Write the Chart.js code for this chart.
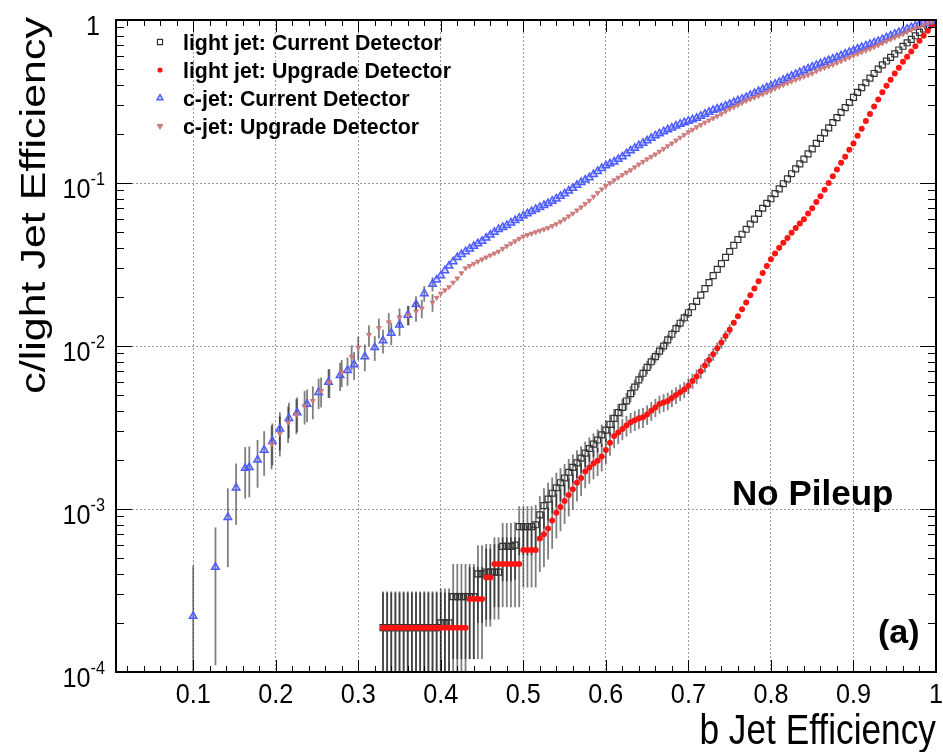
<!DOCTYPE html>
<html><head><meta charset="utf-8">
<script src="https://cdn.jsdelivr.net/npm/chart.js@4.4.0/dist/chart.umd.min.js"></script>
<style>html,body{margin:0;padding:0;background:#fff;}canvas{display:block;}</style>
</head><body>
<canvas id="c" width="943" height="752"></canvas>
<script>
// ---- data: [b-jet efficiency, mistag efficiency, stat. error] ----
const lightCurrent = [
[0.330,1.87e-4,1.25e-4],[0.335,1.87e-4,1.25e-4],[0.340,1.87e-4,1.25e-4],[0.345,1.87e-4,1.25e-4],[0.350,1.87e-4,1.25e-4],
[0.355,1.87e-4,1.25e-4],[0.360,1.87e-4,1.25e-4],[0.365,1.87e-4,1.25e-4],[0.370,1.87e-4,1.25e-4],[0.375,1.87e-4,1.25e-4],
[0.380,1.87e-4,1.25e-4],[0.385,1.87e-4,1.25e-4],[0.390,1.87e-4,1.25e-4],[0.395,1.87e-4,1.25e-4],[0.400,2.0e-4,1.25e-4],
[0.405,2.0e-4,1.25e-4],[0.410,2.0e-4,1.25e-4],[0.415,2.9e-4,1.7e-4],[0.420,2.9e-4,1.7e-4],[0.425,2.9e-4,1.7e-4],
[0.430,2.9e-4,1.7e-4],[0.435,2.9e-4,1.7e-4],[0.440,2.9e-4,1.7e-4],[0.445,4.0e-4,2.0e-4],[0.450,4.0e-4,2.0e-4],
[0.455,4.1e-4,2.0e-4],[0.460,4.1e-4,2.0e-4],[0.465,4.1e-4,2.0e-4],[0.470,4.1e-4,2.0e-4],[0.475,5.9e-4,2.3e-4],
[0.480,5.9e-4,2.3e-4],[0.485,5.9e-4,2.3e-4],[0.490,6.0e-4,2.3e-4],[0.495,7.8e-4,2.6e-4],[0.500,7.8e-4,2.6e-4],
[0.505,7.8e-4,2.6e-4],[0.510,7.8e-4,2.6e-4],[0.515,8.0e-4,2.6e-4],[0.520,9.2e-4,2.8e-4],[0.525,1.05e-3,2.9e-4],
[0.530,1.15e-3,3.0e-4],[0.535,1.25e-3,3.1e-4],[0.540,1.35e-3,3.2e-4],[0.545,1.45e-3,3.3e-4],[0.550,1.55e-3,3.4e-4],
[0.555,1.68e-3,3.5e-4],[0.560,1.8e-3,3.6e-4],[0.565,1.92e-3,3.7e-4],[0.570,2.05e-3,3.8e-4],[0.575,2.2e-3,3.9e-4],
[0.580,2.35e-3,4.0e-4],[0.585,2.5e-3,4.15e-4],[0.590,2.65e-3,4.3e-4],[0.595,2.85e-3,4.45e-4],[0.600,3.05e-3,4.6e-4],
[0.605,3.3e-3,4.8e-4],[0.610,3.6e-3,5.0e-4],[0.615,3.9e-3,5.2e-4],[0.620,4.2e-3,5.4e-4],[0.625,4.6e-3,5.6e-4],
[0.630,5.1e-3,5.9e-4],[0.635,5.6e-3,6.2e-4],[0.640,6.2e-3,6.5e-4],[0.645,6.8e-3,6.8e-4],[0.650,7.4e-3,7.1e-4],
[0.655,8.0e-3,7.4e-4],[0.660,8.6e-3,7.7e-4],[0.665,9.3e-3,8.0e-4],[0.670,0.0100,8.4e-4],[0.675,0.0109,8.7e-4],
[0.680,0.0118,9.1e-4],[0.685,0.0128,9.5e-4],[0.690,0.0138,1.0e-3],[0.695,0.0149,1.05e-3],[0.700,0.0160,1.1e-3],
[0.705,0.0174,0],[0.710,0.0188,0],[0.715,0.0205,0],[0.720,0.0225,0],[0.725,0.0245,0],
[0.730,0.0270,0],[0.735,0.0295,0],[0.740,0.0320,0],[0.745,0.0350,0],[0.750,0.0380,0],
[0.755,0.0415,0],[0.760,0.0450,0],[0.765,0.0485,0],[0.770,0.0520,0],[0.775,0.0560,0],
[0.780,0.0600,0],[0.785,0.0650,0],[0.790,0.0700,0],[0.795,0.0750,0],[0.800,0.0800,0],
[0.805,0.0860,0],[0.810,0.0920,0],[0.815,0.0990,0],[0.820,0.106,0],[0.825,0.114,0],
[0.830,0.122,0],[0.835,0.131,0],[0.840,0.140,0],[0.845,0.151,0],[0.850,0.162,0],
[0.855,0.175,0],[0.860,0.188,0],[0.865,0.203,0],[0.870,0.218,0],[0.875,0.235,0],
[0.880,0.252,0],[0.885,0.271,0],[0.890,0.290,0],[0.895,0.312,0],[0.900,0.335,0],
[0.905,0.360,0],[0.910,0.385,0],[0.915,0.412,0],[0.920,0.440,0],[0.925,0.470,0],
[0.930,0.500,0],[0.935,0.530,0],[0.940,0.560,0],[0.945,0.590,0],[0.950,0.620,0],
[0.955,0.655,0],[0.960,0.690,0],[0.965,0.725,0],[0.970,0.760,0],[0.975,0.800,0],
[0.980,0.840,0],[0.985,0.880,0],[0.990,0.920,0],[0.995,0.960,0],[1.000,1.000,0]
];
const lightUpgrade = [
[0.330,1.87e-4,1.2e-4],[0.335,1.87e-4,1.2e-4],[0.340,1.87e-4,1.2e-4],[0.345,1.87e-4,1.2e-4],[0.350,1.87e-4,1.2e-4],
[0.355,1.87e-4,1.2e-4],[0.360,1.87e-4,1.2e-4],[0.365,1.87e-4,1.2e-4],[0.370,1.87e-4,1.2e-4],[0.375,1.87e-4,1.2e-4],
[0.380,1.87e-4,1.2e-4],[0.385,1.87e-4,1.2e-4],[0.390,1.87e-4,1.2e-4],[0.395,1.87e-4,1.2e-4],[0.400,1.87e-4,1.2e-4],
[0.405,1.87e-4,1.2e-4],[0.410,1.87e-4,1.2e-4],[0.415,1.87e-4,1.2e-4],[0.420,1.87e-4,1.2e-4],[0.425,1.87e-4,1.2e-4],
[0.430,1.87e-4,1.2e-4],[0.435,2.8e-4,1.6e-4],[0.440,2.8e-4,1.6e-4],[0.445,2.8e-4,1.6e-4],[0.450,2.8e-4,1.6e-4],
[0.455,3.8e-4,1.9e-4],[0.460,3.8e-4,1.9e-4],[0.465,4.6e-4,2.1e-4],[0.470,4.6e-4,2.1e-4],[0.475,4.6e-4,2.1e-4],
[0.480,4.6e-4,2.1e-4],[0.485,4.6e-4,2.1e-4],[0.490,4.6e-4,2.1e-4],[0.495,4.6e-4,2.1e-4],[0.500,5.6e-4,2.3e-4],
[0.505,5.6e-4,2.3e-4],[0.510,5.6e-4,2.3e-4],[0.515,5.6e-4,2.3e-4],[0.520,6.6e-4,2.5e-4],[0.525,7.0e-4,2.6e-4],
[0.530,7.6e-4,2.7e-4],[0.535,8.5e-4,2.8e-4],[0.540,9.5e-4,2.9e-4],[0.545,1.03e-3,3.0e-4],[0.550,1.12e-3,3.1e-4],
[0.555,1.22e-3,3.2e-4],[0.560,1.32e-3,3.3e-4],[0.565,1.45e-3,3.4e-4],[0.570,1.55e-3,3.5e-4],[0.575,1.7e-3,3.6e-4],
[0.580,1.8e-3,3.7e-4],[0.585,1.9e-3,3.8e-4],[0.590,1.98e-3,3.9e-4],[0.595,2.1e-3,4.0e-4],[0.600,2.3e-3,4.1e-4],
[0.605,2.55e-3,4.3e-4],[0.610,2.8e-3,4.4e-4],[0.615,2.95e-3,4.5e-4],[0.620,3.1e-3,4.6e-4],[0.625,3.25e-3,4.7e-4],
[0.630,3.4e-3,4.8e-4],[0.635,3.5e-3,4.9e-4],[0.640,3.6e-3,5.0e-4],[0.645,3.65e-3,5.1e-4],[0.650,3.8e-3,5.2e-4],
[0.655,4.0e-3,5.3e-4],[0.660,4.2e-3,5.4e-4],[0.665,4.4e-3,5.5e-4],[0.670,4.5e-3,5.6e-4],[0.675,4.6e-3,5.7e-4],
[0.680,4.8e-3,5.8e-4],[0.685,5.0e-3,5.9e-4],[0.690,5.2e-3,6.0e-4],[0.695,5.4e-3,6.1e-4],[0.700,5.7e-3,6.3e-4],
[0.705,6.1e-3,6.5e-4],[0.710,6.5e-3,6.7e-4],[0.715,7.0e-3,7.0e-4],[0.720,7.6e-3,7.2e-4],[0.725,8.2e-3,7.5e-4],
[0.730,8.9e-3,7.8e-4],[0.735,9.7e-3,8.1e-4],[0.740,0.0105,8.5e-4],[0.745,0.0115,8.9e-4],[0.750,0.0126,9.3e-4],
[0.755,0.0139,0],[0.760,0.0152,0],[0.765,0.0168,0],[0.770,0.0185,0],[0.775,0.0205,0],
[0.780,0.0225,0],[0.785,0.0250,0],[0.790,0.0280,0],[0.795,0.0310,0],[0.800,0.0340,0],
[0.805,0.0370,0],[0.810,0.0400,0],[0.815,0.0430,0],[0.820,0.0460,0],[0.825,0.0495,0],
[0.830,0.0530,0],[0.835,0.0565,0],[0.840,0.0600,0],[0.845,0.0650,0],[0.850,0.0700,0],
[0.855,0.0765,0],[0.860,0.0830,0],[0.865,0.0910,0],[0.870,0.100,0],[0.875,0.110,0],
[0.880,0.121,0],[0.885,0.133,0],[0.890,0.145,0],[0.895,0.160,0],[0.900,0.175,0],
[0.905,0.195,0],[0.910,0.215,0],[0.915,0.240,0],[0.920,0.265,0],[0.925,0.295,0],
[0.930,0.325,0],[0.935,0.360,0],[0.940,0.395,0],[0.945,0.430,0],[0.950,0.470,0],
[0.955,0.510,0],[0.960,0.555,0],[0.965,0.595,0],[0.970,0.640,0],[0.975,0.690,0],
[0.980,0.745,0],[0.985,0.800,0],[0.990,0.860,0],[0.995,0.930,0],[1.000,1.000,0]
];
const cCurrent = [
[0.100,2.2e-4,2.3e-4],[0.127,4.4e-4,3.3e-4],[0.142,8.9e-4,4.5e-4],[0.152,1.35e-3,5.5e-4],[0.163,1.78e-3,6.2e-4],
[0.168,1.80e-3,6.2e-4],[0.178,2.0e-3,6.5e-4],[0.186,2.3e-3,7.0e-4],[0.196,2.6e-3,7.5e-4],[0.205,3.1e-3,8.2e-4],
[0.216,3.6e-3,8.8e-4],[0.226,3.9e-3,9.4e-4],[0.238,4.4e-3,1.0e-3],[0.252,5.2e-3,1.1e-3],[0.264,6.0e-3,1.2e-3],
[0.278,6.6e-3,1.3e-3],[0.287,7.1e-3,1.4e-3],[0.295,7.7e-3,1.5e-3],[0.308,8.6e-3,1.6e-3],[0.320,9.8e-3,1.7e-3],
[0.330,0.0108,1.8e-3],[0.340,0.0120,1.9e-3],[0.350,0.0135,2.0e-3],[0.360,0.0155,2.1e-3],[0.370,0.0180,2.2e-3],
[0.380,0.0210,2.3e-3],[0.390,0.0240,2.4e-3],[0.395,0.0255,0],
[0.400,0.0270,0],[0.405,0.0290,0],[0.410,0.0310,0],[0.415,0.0330,0],[0.420,0.0350,0],
[0.425,0.0365,0],[0.430,0.0380,0],[0.435,0.0395,0],[0.440,0.0410,0],[0.445,0.0425,0],
[0.450,0.0440,0],[0.455,0.0460,0],[0.460,0.0480,0],[0.465,0.0500,0],[0.470,0.0520,0],
[0.475,0.0535,0],[0.480,0.0550,0],[0.485,0.0570,0],[0.490,0.0590,0],[0.495,0.0610,0],
[0.500,0.0630,0],[0.505,0.0650,0],[0.510,0.0670,0],[0.515,0.0690,0],[0.520,0.0710,0],
[0.525,0.0730,0],[0.530,0.0750,0],[0.535,0.0775,0],[0.540,0.0800,0],[0.545,0.0830,0],
[0.550,0.0860,0],[0.555,0.0895,0],[0.560,0.0930,0],[0.565,0.0970,0],[0.570,0.1010,0],
[0.575,0.1045,0],[0.580,0.1080,0],[0.585,0.1130,0],[0.590,0.1180,0],[0.595,0.1230,0],
[0.600,0.1280,0],[0.605,0.1315,0],[0.610,0.1350,0],[0.615,0.1400,0],[0.620,0.1450,0],
[0.625,0.1515,0],[0.630,0.1580,0],[0.635,0.1640,0],[0.640,0.1700,0],[0.645,0.1760,0],
[0.650,0.1820,0],[0.655,0.1885,0],[0.660,0.1950,0],[0.665,0.2010,0],[0.670,0.2070,0],
[0.675,0.2125,0],[0.680,0.2180,0],[0.685,0.2240,0],[0.690,0.2300,0],[0.695,0.2350,0],
[0.700,0.2400,0],[0.705,0.2450,0],[0.710,0.2500,0],[0.715,0.2575,0],[0.720,0.2650,0],
[0.725,0.2725,0],[0.730,0.2800,0],[0.735,0.2850,0],[0.740,0.2900,0],[0.745,0.2975,0],
[0.750,0.3050,0],[0.755,0.3125,0],[0.760,0.3200,0],[0.765,0.3275,0],[0.770,0.3350,0],
[0.775,0.3450,0],[0.780,0.3550,0],[0.785,0.3650,0],[0.790,0.3750,0],[0.795,0.3850,0],
[0.800,0.3950,0],[0.805,0.4050,0],[0.810,0.4150,0],[0.815,0.4275,0],[0.820,0.4400,0],
[0.825,0.4525,0],[0.830,0.4650,0],[0.835,0.4775,0],[0.840,0.4900,0],[0.845,0.5025,0],
[0.850,0.5150,0],[0.855,0.5275,0],[0.860,0.5400,0],[0.865,0.5525,0],[0.870,0.5650,0],
[0.875,0.5775,0],[0.880,0.5900,0],[0.885,0.6050,0],[0.890,0.6200,0],[0.895,0.6350,0],
[0.900,0.6500,0],[0.905,0.6650,0],[0.910,0.6800,0],[0.915,0.6950,0],[0.920,0.7100,0],
[0.925,0.7250,0],[0.930,0.7400,0],[0.935,0.7600,0],[0.940,0.7800,0],[0.945,0.8000,0],
[0.950,0.8200,0],[0.955,0.8400,0],[0.960,0.8600,0],[0.965,0.8800,0],[0.970,0.9000,0],
[0.975,0.9200,0],[0.980,0.9400,0],[0.985,0.9550,0],[0.990,0.9700,0],[0.995,0.9850,0],
[1.000,1.0000,0]
];
const cUpgrade = [
[0.195,2.5e-3,7.5e-4],[0.205,2.9e-3,8.0e-4],[0.215,3.4e-3,8.6e-4],[0.225,3.8e-3,9.2e-4],[0.235,4.3e-3,1.0e-3],
[0.245,4.6e-3,1.05e-3],[0.255,5.3e-3,1.1e-3],[0.265,6.0e-3,1.2e-3],[0.280,6.9e-3,1.3e-3],[0.292,8.6e-3,1.5e-3],
[0.300,9.8e-3,1.6e-3],[0.313,0.0117,1.7e-3],[0.325,0.0129,1.8e-3],[0.337,0.0140,1.9e-3],[0.350,0.0150,2.0e-3],
[0.361,0.0155,2.1e-3],[0.370,0.0163,2.2e-3],[0.377,0.0170,2.2e-3],[0.390,0.0185,2.3e-3],[0.395,0.0198,0],
[0.400,0.0210,0],[0.405,0.0220,0],[0.410,0.0230,0],[0.415,0.0245,0],[0.420,0.0260,0],
[0.425,0.0280,0],[0.430,0.0300,0],[0.435,0.0310,0],[0.440,0.0320,0],[0.445,0.0330,0],
[0.450,0.0340,0],[0.455,0.0350,0],[0.460,0.0360,0],[0.465,0.0370,0],[0.470,0.0380,0],
[0.475,0.0395,0],[0.480,0.0410,0],[0.485,0.0425,0],[0.490,0.0440,0],[0.495,0.0455,0],
[0.500,0.0470,0],[0.505,0.0480,0],[0.510,0.0490,0],[0.515,0.0500,0],[0.520,0.0510,0],
[0.525,0.0520,0],[0.530,0.0530,0],[0.535,0.0545,0],[0.540,0.0560,0],[0.545,0.0580,0],
[0.550,0.0600,0],[0.555,0.0625,0],[0.560,0.0650,0],[0.565,0.0680,0],[0.570,0.0710,0],
[0.575,0.0745,0],[0.580,0.0780,0],[0.585,0.0825,0],[0.590,0.0870,0],[0.595,0.0915,0],
[0.600,0.0960,0],[0.605,0.1000,0],[0.610,0.1040,0],[0.615,0.1080,0],[0.620,0.1120,0],
[0.625,0.1160,0],[0.630,0.1200,0],[0.635,0.1250,0],[0.640,0.1300,0],[0.645,0.1350,0],
[0.650,0.1400,0],[0.655,0.1450,0],[0.660,0.1500,0],[0.665,0.1560,0],[0.670,0.1620,0],
[0.675,0.1685,0],[0.680,0.1750,0],[0.685,0.1825,0],[0.690,0.1900,0],[0.695,0.1975,0],
[0.700,0.2050,0],[0.705,0.2125,0],[0.710,0.2200,0],[0.715,0.2275,0],[0.720,0.2350,0],
[0.725,0.2425,0],[0.730,0.2500,0],[0.735,0.2575,0],[0.740,0.2650,0],[0.745,0.2750,0],
[0.750,0.2850,0],[0.755,0.2925,0],[0.760,0.3000,0],[0.765,0.3100,0],[0.770,0.3200,0],
[0.775,0.3275,0],[0.780,0.3350,0],[0.785,0.3425,0],[0.790,0.3500,0],[0.795,0.3600,0],
[0.800,0.3700,0],[0.805,0.3800,0],[0.810,0.3900,0],[0.815,0.4000,0],[0.820,0.4100,0],
[0.825,0.4200,0],[0.830,0.4300,0],[0.835,0.4400,0],[0.840,0.4500,0],[0.845,0.4600,0],
[0.850,0.4700,0],[0.855,0.4850,0],[0.860,0.5000,0],[0.865,0.5100,0],[0.870,0.5200,0],
[0.875,0.5325,0],[0.880,0.5450,0],[0.885,0.5600,0],[0.890,0.5750,0],[0.895,0.5900,0],
[0.900,0.6050,0],[0.905,0.6200,0],[0.910,0.6350,0],[0.915,0.6500,0],[0.920,0.6650,0],
[0.925,0.6825,0],[0.930,0.7000,0],[0.935,0.7200,0],[0.940,0.7400,0],[0.945,0.7600,0],
[0.950,0.7800,0],[0.955,0.8000,0],[0.960,0.8200,0],[0.965,0.8450,0],[0.970,0.8700,0],
[0.975,0.8900,0],[0.980,0.9100,0],[0.985,0.9325,0],[0.990,0.9550,0],[0.995,0.9775,0],
[1.000,1.0000,0]
];
const seriesNames = ['light jet: Current Detector','light jet: Upgrade Detector','c-jet: Current Detector','c-jet: Upgrade Detector'];
const xTickValues = [0.1,0.2,0.3,0.4,0.5,0.6,0.7,0.8,0.9,1.0];
const xTickLabels = ['0.1','0.2','0.3','0.4','0.5','0.6','0.7','0.8','0.9','1'];
const yTickValues = [1e-4,1e-3,1e-2,1e-1,1];
const yTickExponents = ['-4','-3','-2','-1',null];
const xTitle = 'b Jet Efficiency';
const yTitle = 'c/light Jet Efficiency';
const texts = ['No Pileup','(a)'];

const FONT = '"Liberation Sans", Arial, Helvetica, sans-serif';
const toPts = a => a.map(p => ({x:p[0], y:p[1]}));
const toErr = a => a.map(p => p[2]);

const styles = [
  {pointStyle:'rect', radius:4.2, borderColor:'#333333', backgroundColor:'rgba(0,0,0,0)', borderWidth:1.2, rotation:0},
  {pointStyle:'circle', radius:3, borderColor:'#ff1414', backgroundColor:'#ff1414', borderWidth:0, rotation:0},
  {pointStyle:'triangle', radius:4.3, borderColor:'#4d5cff', backgroundColor:'rgba(90,110,255,0.25)', borderWidth:1.5, rotation:0},
  {pointStyle:'triangle', radius:2.8, borderColor:'#c97070', backgroundColor:'#d08080', borderWidth:0.8, rotation:180}
];
const raw = [lightCurrent, lightUpgrade, cCurrent, cUpgrade];
const datasets = raw.map((r,i) => ({
  label: seriesNames[i], data: toPts(r), errs: toErr(r), showLine:false,
  pointStyle: styles[i].pointStyle, pointRadius: styles[i].radius, pointHoverRadius: styles[i].radius,
  pointBorderColor: styles[i].borderColor, pointBackgroundColor: styles[i].backgroundColor,
  pointBorderWidth: styles[i].borderWidth, pointRotation: styles[i].rotation, order: 4-i
}));

function drawMarker(ctx, st, x, y, r){
  ctx.save();
  ctx.lineWidth = st.borderWidth || 1; ctx.strokeStyle = st.borderColor; ctx.fillStyle = st.backgroundColor;
  ctx.beginPath();
  if (st.pointStyle==='rect'){ const s=r*Math.SQRT1_2; ctx.rect(x-s,y-s,2*s,2*s); }
  else if (st.pointStyle==='circle'){ ctx.arc(x,y,r,0,Math.PI*2); }
  else { const d = st.rotation===180 ? -1 : 1; ctx.moveTo(x, y - d*r); ctx.lineTo(x + r*0.866, y + d*r*0.5); ctx.lineTo(x - r*0.866, y + d*r*0.5); ctx.closePath(); }
  ctx.fill(); if (st.borderWidth) ctx.stroke();
  ctx.restore();
}
function text(ctx, s, x, y, font, align, sx){
  ctx.save(); ctx.translate(x,y); ctx.scale(sx||1,1); ctx.font=font; ctx.textAlign=align; ctx.textBaseline='alphabetic'; ctx.fillStyle='#000'; ctx.fillText(s,0,0); ctx.restore();
}

const rootStyle = {
  id:'rootStyle',
  beforeDatasetsDraw(chart){
    const {ctx, chartArea:a, scales:{x,y}} = chart;
    ctx.save();
    ctx.beginPath(); ctx.rect(a.left,a.top,a.right-a.left,a.bottom-a.top); ctx.clip();
    ctx.strokeStyle='rgba(0,0,0,0.5)'; ctx.lineWidth=1.8;
    chart.data.datasets.forEach(ds => {
      ds.data.forEach((p,j) => {
        const e = ds.errs[j]; if (!e) return;
        const px = x.getPixelForValue(p.x);
        const lo = p.y - e;
        const y1 = lo > y.min ? y.getPixelForValue(lo) : a.bottom;
        const y2 = y.getPixelForValue(p.y + e);
        ctx.beginPath(); ctx.moveTo(px,y1); ctx.lineTo(px,y2); ctx.stroke();
      });
    });
    ctx.restore();
  },
  afterDraw(chart){
    const {ctx, chartArea:a, scales:{x,y}} = chart;
    ctx.save();
    // ticks (inside, on all four sides)
    ctx.strokeStyle='#000'; ctx.lineWidth=1;
    ctx.beginPath();
    for (let k=1;k<50;k++){
      const v = k*0.02; if (v < x.min) continue;
      const px = Math.round(x.getPixelForValue(v))+0.5;
      const major = k%5===0; const L = major?12:6;
      ctx.moveTo(px,a.bottom); ctx.lineTo(px,a.bottom-L);
      ctx.moveTo(px,a.top); ctx.lineTo(px,a.top+L);
    }
    for (let e=-4;e<0;e++){
      for (let m=1;m<10;m++){
        const v = m*Math.pow(10,e);
        const py = Math.round(y.getPixelForValue(v))+0.5;
        const L = m===1?16:8;
        ctx.moveTo(a.left,py); ctx.lineTo(a.left+L,py);
        ctx.moveTo(a.right,py); ctx.lineTo(a.right-L,py);
      }
    }
    ctx.stroke();
    // frame
    ctx.lineWidth=2; ctx.strokeRect(a.left,a.top,a.right-a.left,a.bottom-a.top);
    // x tick labels
    xTickValues.forEach((v,i) => text(ctx, xTickLabels[i], x.getPixelForValue(v), a.bottom+31, '28px '+FONT, 'center', 0.9));
    // y tick labels with superscripts
    yTickValues.forEach((v,i) => {
      const py = y.getPixelForValue(v);
      const ex = yTickExponents[i];
      if (ex===null){ text(ctx,'1',a.left-16,py+15,'28px '+FONT,'right',0.9); return; }
      text(ctx, ex, a.left-11, py+2, '18px '+FONT, 'right', 0.9);
      ctx.font='18px '+FONT; const we = ctx.measureText(ex).width*0.9;
      text(ctx, '10', a.left-11-we, py+15, '28px '+FONT, 'right', 0.9);
    });
    // axis titles
    text(ctx, xTitle, a.right, 744, '42px '+FONT, 'right', 0.84);
    ctx.save(); ctx.translate(45, 17); ctx.rotate(-Math.PI/2); ctx.scale(1,0.8);
    ctx.font='43px '+FONT; ctx.textAlign='right'; ctx.textBaseline='alphabetic'; ctx.fillStyle='#000'; ctx.fillText(yTitle,0,0); ctx.restore();
    // legend
    const rows=[42,70,98,126];
    styles.forEach((st,i) => {
      drawMarker(ctx, st, 160, rows[i], st.pointStyle==='circle'?2.6:(st.pointStyle==='rect'?3.6:3.3));
      text(ctx, seriesNames[i], 183, rows[i]+8, 'bold 22px '+FONT, 'left', 0.97);
    });
    // annotations
    text(ctx, texts[0], 732, 505, 'bold 35px '+FONT, 'left', 1);
    text(ctx, texts[1], 878, 643, 'bold 34px '+FONT, 'left', 1);
    ctx.restore();
  }
};

new Chart(document.getElementById('c'), {
  type:'scatter',
  data:{datasets},
  options:{
    responsive:false, animation:false, devicePixelRatio:1,
    layout:{padding:{top:20,right:7,left:0,bottom:0}},
    plugins:{legend:{display:false}, tooltip:{enabled:false}},
    scales:{
      x:{type:'linear', min:0.0065, max:1.0,
         afterBuildTicks:s => { s.ticks = xTickValues.map(v=>({value:v})); },
         afterFit:s => { s.height = 80; },
         ticks:{display:false},
         grid:{drawTicks:false, lineWidth:1, color:c => (c.tick && c.tick.value<0.95) ? '#9a9a9a' : 'rgba(0,0,0,0)'},
         border:{display:false, dash:[2,2]}},
      y:{type:'logarithmic', min:1e-4, max:1,
         afterBuildTicks:s => { s.ticks = yTickValues.map(v=>({value:v})); },
         afterFit:s => { s.width = 116; },
         ticks:{display:false},
         grid:{drawTicks:false, lineWidth:1, color:c => (c.tick && c.tick.value>1.5e-4 && c.tick.value<0.5) ? '#9a9a9a' : 'rgba(0,0,0,0)'},
         border:{display:false, dash:[2,2]}}
    }
  },
  plugins:[rootStyle]
});
</script>
</body></html>
